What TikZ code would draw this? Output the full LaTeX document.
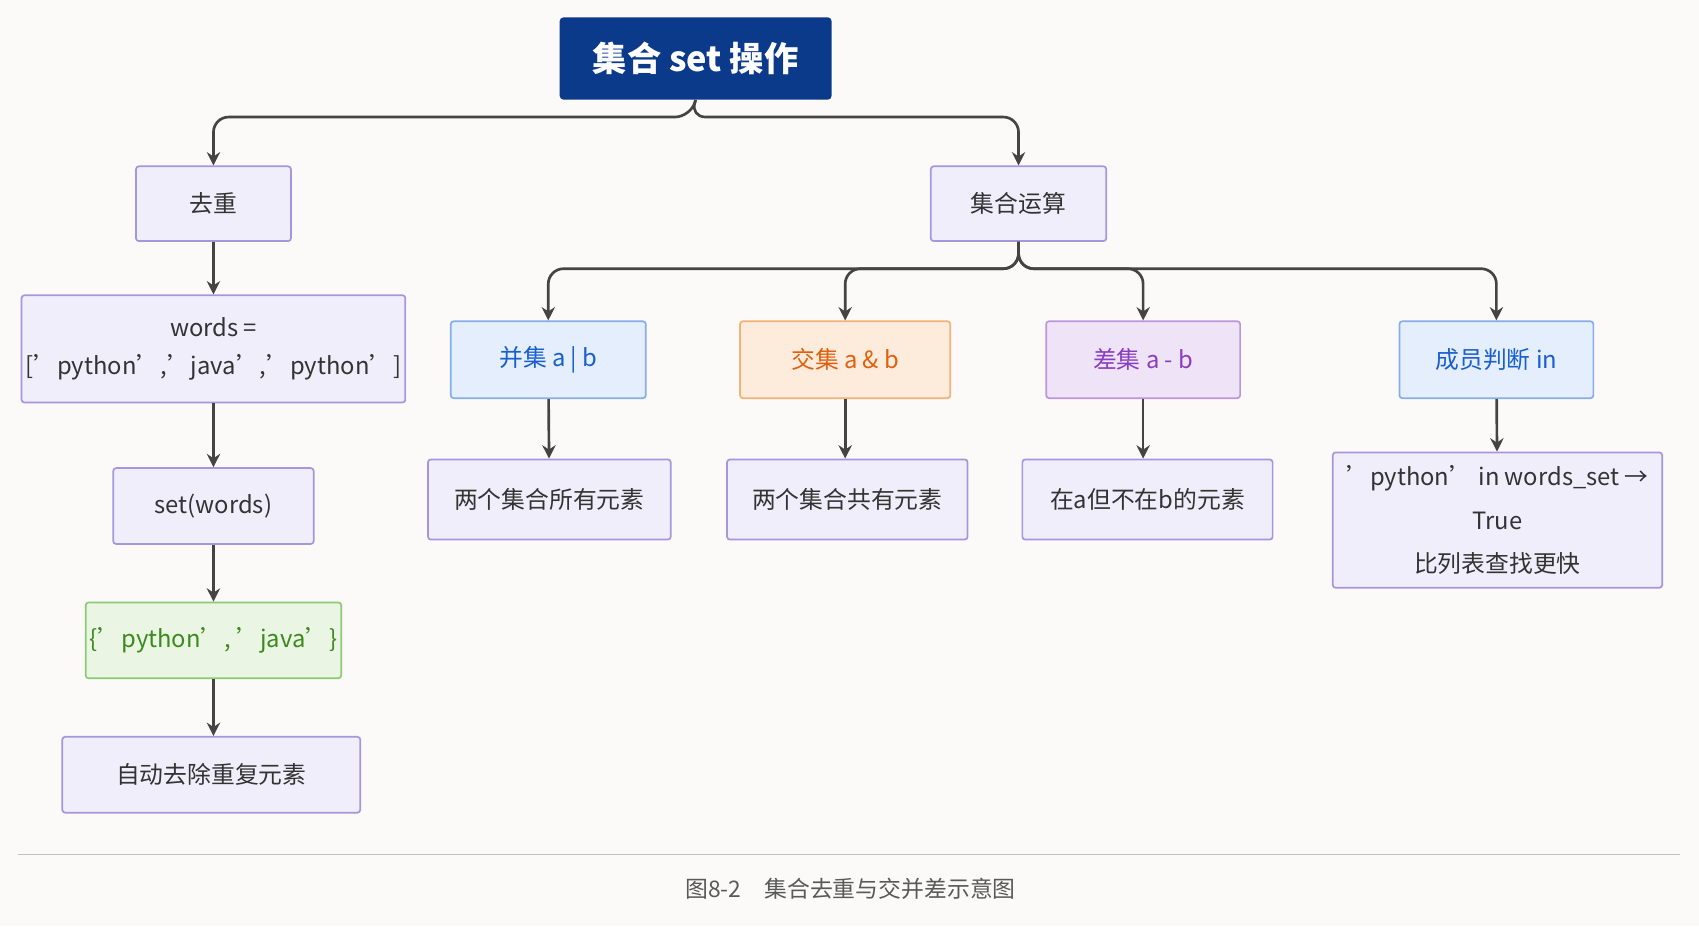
\documentclass[tikz,border=0pt]{standalone}
\usepackage{fontspec}
\setmainfont{Noto Sans CJK SC}
\usetikzlibrary{arrows.meta}
\definecolor{bgc}{HTML}{FBFAF8}
\definecolor{boxfill}{HTML}{F1EEFB}
\definecolor{boxline}{HTML}{A597DE}
\definecolor{titlec}{HTML}{0B3A8A}
\definecolor{bluefill}{HTML}{E4EEFC}
\definecolor{blueline}{HTML}{86AEE8}
\definecolor{bluetext}{HTML}{1A5FD0}
\definecolor{orgfill}{HTML}{FDECDB}
\definecolor{orgline}{HTML}{F2B27A}
\definecolor{orgtext}{HTML}{E0600F}
\definecolor{purfill}{HTML}{EFE3F7}
\definecolor{purline}{HTML}{BC95DC}
\definecolor{purtext}{HTML}{8A3FC0}
\definecolor{grnfill}{HTML}{EAF6E3}
\definecolor{grnline}{HTML}{8CCB74}
\definecolor{grntext}{HTML}{3C8A1E}
\definecolor{linec}{HTML}{444444}
\tikzset{
  box/.style={draw=boxline, fill=boxfill, line width=0.9pt, rounded corners=1.5pt,
    align=center, font=\fontsize{12.5}{20}\selectfont, text=black!80, inner sep=2pt},
  bluebox/.style={box, draw=blueline, fill=bluefill, text=bluetext},
  orgbox/.style={box, draw=orgline, fill=orgfill, text=orgtext},
  purbox/.style={box, draw=purline, fill=purfill, text=purtext},
  grnbox/.style={box, draw=grnline, fill=grnfill, text=grntext},
  conn/.style={draw=linec, line width=1.4pt, rounded corners=8pt, -{Stealth[length=7pt,width=7pt]}}
}
\begin{document}
\begin{tikzpicture}[x=0.02cm,y=-0.02cm]
  % background
  \fill[bgc] (0,0) rectangle (1568,855);
  \useasboundingbox (0,0) rectangle (1568,855);
  % title
  \node[fill=titlec, rounded corners=2pt, minimum width=5.02cm, minimum height=1.52cm,
    text=white, font=\fontsize{18}{22}\selectfont\bfseries] (title) at (642,54) {集合 set 操作};
  % left branch
  \node[box, minimum width=2.86cm, minimum height=1.38cm] (dedup) at (197,188) {去重};
  \node[box, minimum width=6.5cm, minimum height=1.98cm] (words) at (197,322) {words =\\\relax['python','java','python']};
  \node[box, minimum width=3.7cm, minimum height=1.4cm] (setw) at (197,467) {set(words)};
  \node[grnbox, minimum width=4.68cm, minimum height=1.4cm] (result) at (197,591) {\{'python', 'java'\}};
  \node[box, minimum width=5.5cm, minimum height=1.4cm] (auto) at (195,715) {自动去除重复元素};
  % right branch
  \node[box, minimum width=3.24cm, minimum height=1.38cm] (ops) at (940,188) {集合运算};
  \node[bluebox, minimum width=3.6cm, minimum height=1.42cm] (union) at (506,332) {并集 a | b};
  \node[orgbox, minimum width=3.88cm, minimum height=1.42cm] (inter) at (780,332) {交集 a \& b};
  \node[purbox, minimum width=3.58cm, minimum height=1.42cm] (diff) at (1055,332) {差集 a - b};
  \node[bluebox, minimum width=3.58cm, minimum height=1.42cm] (member) at (1381,332) {成员判断 in};
  \node[box, minimum width=4.48cm, minimum height=1.48cm] (unionr) at (507,461) {两个集合所有元素};
  \node[box, minimum width=4.44cm, minimum height=1.48cm] (interr) at (782,461) {两个集合共有元素};
  \node[box, minimum width=4.62cm, minimum height=1.48cm] (diffr) at (1059,461) {在a但不在b的元素};
  \node[box, minimum width=6.08cm, minimum height=2.5cm, font=\fontsize{12.5}{23}\selectfont] (memberr) at (1382,480) {'python' in words\_set →\\True\\比列表查找更快};
  % split points
  \coordinate (split1) at (637,108);
  \coordinate (split2) at (940,248);
  % connectors
  \draw[conn] (title.south) -- (split1) -| (dedup.north);
  \draw[conn] (title.south) -- (split1) -| (ops.north);
  \draw[conn] (dedup) -- (words);
  \draw[conn] (words) -- (setw);
  \draw[conn] (setw) -- (result);
  \draw[conn] (result) -- (auto.north -| result);
  \foreach \n in {union,inter,diff,member}
    \draw[conn] (ops.south) -- (split2) -| (\n.north);
  \draw[conn] (union) -- (unionr);
  \draw[conn] (inter) -- (interr.north -| inter);
  \draw[conn] (diff) -- (diffr.north -| diff);
  \draw[conn] (member) -- (memberr);
  % caption
  \draw[black!25, line width=0.6pt] (17,789) -- (1550,789);
  \node[text=black!65, font=\fontsize{12}{14}\selectfont] (caption) at (785,820) {图8-2\quad 集合去重与交并差示意图};
\end{tikzpicture}
\end{document}
